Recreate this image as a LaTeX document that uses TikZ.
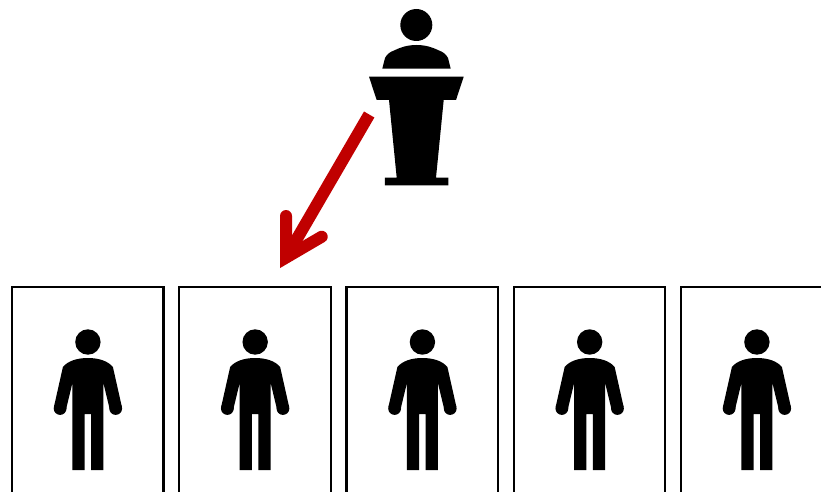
\documentclass[tikz,border=0pt]{standalone}
\usepackage{xcolor}
\usepackage{tikz}
\usetikzlibrary{
	calc, 
	positioning
}
\definecolor{arrowred}{RGB}{192,0,0}
\tikzset{
	seatbox/.style={draw=black, line width=2.3pt, fill=white, anchor=north west, inner sep=0pt, outer sep=0pt, minimum width=151.5pt, minimum height=240pt},
	shaftline/.style={draw=arrowred, line width=12pt},
	barbline/.style={draw=arrowred, line width=12pt, line cap=round, line join=miter},
	person/.pic={
		\fill (0,0) circle (12.7pt);
		\fill (0,16) .. controls (-11,16) and (-20,19) .. (-25,25) -- (-34,65) -- (-22,68) -- (-15.5,41) -- (-15.5,128) -- (-3.3,128) -- (-3.3,72) -- (3.3,72) -- (3.3,128) -- (15.5,128) -- (15.5,41) -- (22,68) -- (34,65) -- (25,25) .. controls (20,19) and (11,16) .. (0,16) -- cycle;
		\fill (-27.8,66.5) circle (6.4pt);
		\fill (27.8,66.5) circle (6.4pt);
	}
}
\begin{document}
\begin{tikzpicture}[x=1pt, y=-1pt]
	\clip (0,0) rectangle (821,492);
	\fill (416.3,25) circle (16pt);
	\fill (382.3,68.7) -- (385,58) .. controls (387,54) and (390,52) .. (394,50.5) .. controls (401,47) and (408,45) .. (416.5,45) .. controls (425,45) and (432,47) .. (439,50.5) .. controls (443,52) and (446,54) .. (448,58) -- (450.7,68.7) -- cycle;
	\fill (369,76.7) -- (463.7,76.7) -- (456,100) -- (443.7,100) -- (436,177.7) -- (448.3,177.7) -- (448.3,185.3) -- (384.8,185.3) -- (384.8,177.7) -- (396.7,177.7) -- (389,100) -- (376.7,100) -- cycle;
	\foreach \i/\x in {1/12,2/179.25,3/346.5,4/513.75,5/681}{
		\node[seatbox] (seat\i) at (\x,287) {};
		\pic at ($(\x,342)+(75.9,0)$) {person};
	}
	\coordinate (start) at (369.2,114.5);
	\coordinate (elbow) at (286,257.6);
	\coordinate (barbleft) at (286,216);
	\coordinate (barbright) at (321.7,236.7);
	\draw[shaftline] (start) -- (elbow);
	\draw[barbline] (barbleft) -- (elbow) -- (barbright);
\end{tikzpicture}
\end{document}
